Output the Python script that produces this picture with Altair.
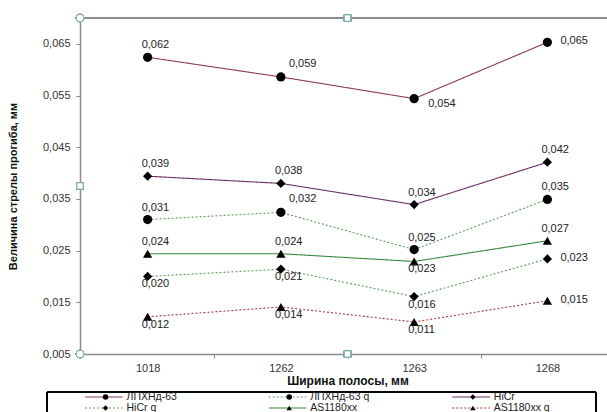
import altair as alt
import pandas as pd

# ---------------- data ----------------
CATEGORIES = ["1018", "1262", "1263", "1268"]
SERIES = ["ЛПХНд-63", "ЛПХНд-63 q", "HiCr", "HiCr q", "AS1180xx", "AS1180xx q"]
LPHND63 = [0.0624, 0.0586, 0.0544, 0.0653]
LPHND63_Q = [0.0310, 0.0324, 0.0252, 0.0349]
HICR = [0.0394, 0.0380, 0.0339, 0.0421]
HICR_Q = [0.0200, 0.0214, 0.0161, 0.0234]
AS1180 = [0.0244, 0.0244, 0.0229, 0.0269]
AS1180_Q = [0.0122, 0.0141, 0.0112, 0.0153]
Y_TICKS = [0.005, 0.015, 0.025, 0.035, 0.045, 0.055, 0.065]

VALUES = [LPHND63, LPHND63_Q, HICR, HICR_Q, AS1180, AS1180_Q]

# ---------------- styles ----------------
COLORS = ["#8c3a52", "#5f9a5f", "#6e2f66", "#5f9a5f", "#3a8a3a", "#a83848"]
DASHES = [[1, 0], [2, 2], [1, 0], [2, 2], [1, 0], [2, 2]]
SHAPES = ["circle", "circle", "diamond", "diamond", "triangle-up", "triangle-up"]
SIZES = [85, 85, 55, 55, 80, 80]
LEG_SIZES = [30, 30, 22, 22, 30, 30]
LABEL_POS = {
    "ЛПХНд-63": ["a", "ar", "br", "r"],
    "ЛПХНд-63 q": ["a", "ar", "a", "a"],
    "HiCr": ["a", "a", "a", "a"],
    "HiCr q": ["b", "b", "b", "r"],
    "AS1180xx": ["a", "a", "b", "a"],
    "AS1180xx q": ["b", "b", "b", "r"],
}
OFFSETS = {"a": (-6, -12), "ar": (8, -13), "br": (14, 5), "b": (-6, 8), "r": (13, -1)}

FONT = "Liberation Sans"
W, H = 527, 336

rows = []
for s, vals in zip(SERIES, VALUES):
    for c, v, p in zip(CATEGORIES, vals, LABEL_POS[s]):
        rows.append({"series": s, "cat": c, "value": v, "pos": p})
df = pd.DataFrame(rows)

color_scale = alt.Scale(domain=SERIES, range=COLORS)
dash_scale = alt.Scale(domain=SERIES, range=DASHES)
shape_scale = alt.Scale(domain=SERIES, range=SHAPES)
size_scale = alt.Scale(domain=SERIES, range=SIZES)

x_enc = alt.X(
    "cat:N",
    sort=CATEGORIES,
    scale=alt.Scale(range=[1, 534], paddingInner=0, paddingOuter=0),
    axis=alt.Axis(
        title="Ширина полосы, мм",
        titleFont=FONT, titleFontSize=12, titleFontWeight="bold", titleColor="#111",
        titlePadding=2,
        labelFont=FONT, labelFontSize=11, labelColor="#333", labelAngle=0,
        labelPadding=4,
        tickBand="extent", tickSize=4, tickColor="#888",
        domainColor="#8a8a8a", domainWidth=1.5, grid=False,
    ),
)
y_enc = alt.Y(
    "value:Q",
    scale=alt.Scale(domain=[0.005, 0.070], nice=False, zero=False),
    axis=alt.Axis(
        values=Y_TICKS,
        labelExpr="replace(format(datum.value, '.3f'), '.', ',')",
        title="Величина стрелы прогиба, мм",
        titleFont=FONT, titleFontSize=11, titleFontWeight="bold", titleColor="#111",
        titlePadding=24,
        labelFont=FONT, labelFontSize=11, labelColor="#333", labelPadding=6,
        tickSize=4, tickColor="#888",
        domainColor="#8a8a8a", domainWidth=1.5, grid=False,
    ),
)

base = alt.Chart(df)

lines = base.mark_line(strokeWidth=1.1).encode(
    x=x_enc, y=y_enc,
    color=alt.Color("series:N", scale=color_scale, legend=None),
    strokeDash=alt.StrokeDash("series:N", scale=dash_scale, legend=None),
    detail="series:N",
)

points = base.mark_point(filled=True, color="black", opacity=1).encode(
    x=x_enc, y=y_enc,
    shape=alt.Shape("series:N", scale=shape_scale, legend=None),
    size=alt.Size("series:N", scale=size_scale, legend=None),
)

labels = []
for code, (dx, dy) in OFFSETS.items():
    labels.append(
        base.transform_filter(alt.datum.pos == code)
        .transform_calculate(label="replace(format(datum.value, '.3f'), '.', ',')")
        .mark_text(align="left", baseline="middle", dx=dx, dy=dy, font=FONT,
                   fontSize=11, color="#222")
        .encode(x=x_enc, y=y_enc, text="label:N")
    )

top_border = alt.Chart(df).mark_rule(color="#8a8a8a", strokeWidth=1.5).encode(
    x=alt.value(0), x2=alt.value(W), y=alt.value(0)
)

handle_style = dict(filled=True, fill="white", stroke="#7aaaaa", strokeWidth=1, opacity=1)
handles = [
    alt.Chart(df).mark_point(shape="circle", size=60, **handle_style).encode(x=alt.value(0), y=alt.value(0)),
    alt.Chart(df).mark_point(shape="circle", size=60, **handle_style).encode(x=alt.value(0), y=alt.value(H)),
    alt.Chart(df).mark_point(shape="square", size=40, **handle_style).encode(x=alt.value(267.5), y=alt.value(0)),
    alt.Chart(df).mark_point(shape="square", size=40, **handle_style).encode(x=alt.value(267.5), y=alt.value(H)),
    alt.Chart(df).mark_point(shape="square", size=40, **handle_style).encode(x=alt.value(0), y=alt.value(168)),
]

main = alt.layer(lines, points, *labels, top_border, *handles)

# ---------------- legend (drawn below the plot) ----------------
leg = pd.DataFrame({
    "series": SERIES,
    "col": [i % 3 for i in range(len(SERIES))],
    "row": [i // 3 for i in range(len(SERIES))],
})
lbase = alt.Chart(leg).transform_calculate(
    x0="datum.col", x1="datum.col + 0.205", xm="datum.col + 0.112", xt="datum.col + 0.226"
)
lx_scale = alt.Scale(domain=[0, 3], range=[5, 556])
ly_scale = alt.Scale(domain=[0, 1], range=[379, 390])

leg_lines = lbase.mark_rule(strokeWidth=1.1).encode(
    x=alt.X("x0:Q", scale=lx_scale, axis=None),
    x2="x1:Q",
    y=alt.Y("row:Q", scale=ly_scale, axis=None),
    color=alt.Color("series:N", scale=color_scale, legend=None),
    strokeDash=alt.StrokeDash("series:N", scale=dash_scale, legend=None),
)
leg_points = lbase.mark_point(filled=True, color="black", opacity=1).encode(
    x=alt.X("xm:Q", scale=lx_scale, axis=None),
    y=alt.Y("row:Q", scale=ly_scale, axis=None),
    shape=alt.Shape("series:N", scale=shape_scale, legend=None),
    size=alt.Size("series:N", scale=alt.Scale(domain=SERIES, range=LEG_SIZES), legend=None),
)
leg_text = lbase.mark_text(align="left", baseline="middle", font=FONT, fontSize=10.5,
                           color="#222").encode(
    x=alt.X("xt:Q", scale=lx_scale, axis=None),
    y=alt.Y("row:Q", scale=ly_scale, axis=None),
    text="series:N",
)
leg_box = alt.Chart(leg).mark_rect(fillOpacity=0, stroke="black", strokeWidth=1).encode(
    x=alt.value(-33), x2=alt.value(516), y=alt.value(374), y2=alt.value(402)
)
legend = alt.layer(leg_box, leg_lines, leg_points, leg_text).resolve_scale(size="independent")

chart = (
    alt.layer(main, legend)
    .resolve_scale(x="independent", y="independent", size="independent")
    .properties(
        width=W, height=H,
        padding={"left": 80, "top": 18, "right": 0, "bottom": 58},
        autosize=alt.AutoSizeParams(type="none"),
        background="white",
    )
    .configure_view(stroke=None)
)

chart.save("out.html", embed_options={"renderer": "svg", "actions": False})
